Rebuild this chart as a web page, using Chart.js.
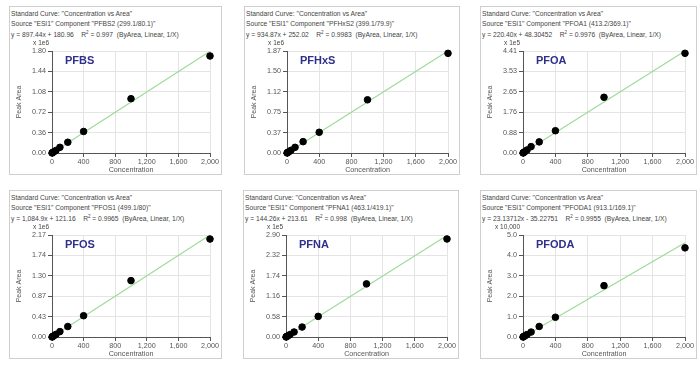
<!DOCTYPE html>
<html>
<head>
<meta charset="utf-8">
<script src="https://cdn.jsdelivr.net/npm/chart.js@4"></script>
<style>
body { margin: 0; background: #fff; width: 700px; height: 370px; position: relative; overflow: hidden; font-family: "Liberation Sans", Arial, sans-serif; }
.panel { position: absolute; border: 1px solid #cfcfcf; background: #fff; box-sizing: border-box; height: 169px; }
.hdr { position: absolute; left: 1px; top: 2px; font-size: 6.7px; line-height: 9.5px; color: #444; white-space: nowrap; }
.panel canvas { position: absolute; left: 0; top: 29px; }
</style>
</head>
<body>
<script>
// calibration levels (same for every compound)
const concentrations = [1, 5, 10, 25, 50, 100, 200, 400, 1000, 2000];

const compounds = ['PFBS', 'PFHxS', 'PFOA', 'PFOS', 'PFNA', 'PFODA'];
const components = ['PFBS2 (299.1/80.1)', 'PFHxS2 (399.1/79.9)', 'PFOA1 (413.2/369.1)',
                    'PFOS1 (499.1/80)', 'PFNA1 (463.1/419.1)', 'PFODA1 (913.1/169.1)'];
const equations = ['y = 897.44x + 180.96', 'y = 934.87x + 252.02', 'y = 220.40x + 48.30452',
                   'y = 1,084.9x + 121.16', 'y = 144.26x + 213.61', 'y = 23.13712x - 35.22751'];
const rSquared = ['0.997', '0.9983', '0.9976', '0.9965', '0.998', '0.9955'];
const scaleLabels = ['x 1e6', 'x 1e6', 'x 1e5', 'x 1e6', 'x 1e5', 'x 10,000'];

// peak areas, in the units of each panel's scale label
const pfbsArea  = [0.001, 0.005, 0.010, 0.022, 0.045, 0.100, 0.190, 0.380, 0.958, 1.712];
const pfhxsArea = [0.001, 0.005, 0.010, 0.024, 0.050, 0.104, 0.208, 0.380, 0.975, 1.827];
const pfoaArea  = [0.003, 0.012, 0.025, 0.060, 0.130, 0.277, 0.480, 0.964, 2.410, 4.310];
const pfosArea  = [0.001, 0.006, 0.012, 0.027, 0.055, 0.115, 0.223, 0.453, 1.200, 2.084];
const pfnaArea  = [0.002, 0.008, 0.015, 0.035, 0.070, 0.142, 0.283, 0.586, 1.510, 2.787];
const pfodaArea = [0.002, 0.010, 0.025, 0.060, 0.120, 0.242, 0.516, 0.968, 2.516, 4.370];
const areas = [pfbsArea, pfhxsArea, pfoaArea, pfosArea, pfnaArea, pfodaArea];

// fitted line, value at 0 and at 2000
const fitStart = [0.0002, 0.0003, 0.0005, 0.0001, 0.002, 0];
const fitEnd   = [1.795, 1.870, 4.408, 2.170, 2.887, 4.62];

// y axis ticks
const yTicks = [
  ['0.00', '0.36', '0.72', '1.08', '1.44', '1.80'],
  ['0.00', '0.37', '0.75', '1.12', '1.50', '1.87'],
  ['0.00', '0.88', '1.76', '2.65', '3.53', '4.41'],
  ['0.00', '0.43', '0.87', '1.30', '1.74', '2.17'],
  ['0.00', '0.58', '1.16', '1.74', '2.32', '2.90'],
  ['0.0', '1.0', '2.0', '3.0', '4.0', '5.0']
];
const yMax = [1.80, 1.87, 4.41, 2.17, 2.90, 5.0];
const xTicks = [0, 400, 800, 1200, 1600, 2000];

// panel boxes [left, top, width]
const boxes = [[9, 6, 213], [244, 6, 216], [480, 6, 217], [9, 190, 213], [243, 190, 216], [480, 190, 217]];

const labelPlugin = {
    id: 'panelLabels',
    afterDraw(chart, args, opts) {
        const { ctx, chartArea } = chart;
        ctx.save();
        ctx.font = '6.5px "Liberation Sans"';
        ctx.fillStyle = '#444';
        ctx.textAlign = 'right';
        ctx.textBaseline = 'middle';
        ctx.fillText(opts.scale, chartArea.left - 3, chartArea.top - 8);
        ctx.font = 'bold 11px "Liberation Sans"';
        ctx.fillStyle = '#2f2f8c';
        ctx.textAlign = 'left';
        ctx.fillText(opts.name, chartArea.left + 13, chartArea.top + 10);
        ctx.restore();
    }
};

compounds.forEach((name, i) => {
    const [left, top, width] = boxes[i];
    const panel = document.createElement('div');
    panel.className = 'panel';
    panel.style.left = left + 'px';
    panel.style.top = top + 'px';
    panel.style.width = width + 'px';

    const hdr = document.createElement('div');
    hdr.className = 'hdr';
    hdr.innerHTML = 'Standard Curve: "Concentration vs Area"<br>' +
        'Source "ESI1" Component "' + components[i] + '"<br>' +
        equations[i] + '&nbsp;&nbsp;&nbsp; R<sup style="font-size:4.5px">2</sup> = ' + rSquared[i] +
        '&nbsp;&nbsp;(ByArea, Linear, 1/X)';
    panel.appendChild(hdr);

    const canvas = document.createElement('canvas');
    canvas.width = width - 2;
    canvas.height = 138;
    canvas.style.width = (width - 2) + 'px';
    canvas.style.height = '138px';
    panel.appendChild(canvas);
    document.body.appendChild(panel);

    const points = concentrations.map((c, k) => ({ x: c, y: areas[i][k] }));
    const tickValues = yTicks[i].map(t => parseFloat(t));

    new Chart(canvas.getContext('2d'), {
        type: 'scatter',
        data: {
            datasets: [{
                label: name,
                data: points,
                backgroundColor: '#000',
                borderColor: '#000',
                pointRadius: 3.3,
                clip: false
            }, {
                label: 'fit',
                data: [{ x: 0, y: fitStart[i] }, { x: 2000, y: fitEnd[i] }],
                showLine: true,
                borderColor: '#9edb9a',
                borderWidth: 1.2,
                pointRadius: 0,
                clip: false
            }]
        },
        options: {
            responsive: false,
            animation: false,
            layout: { padding: { top: 15, right: 11, left: 5, bottom: 0 } },
            plugins: {
                legend: { display: false },
                tooltip: { enabled: false },
                panelLabels: { name: name, scale: scaleLabels[i] }
            },
            scales: {
                x: {
                    type: 'linear',
                    min: 0,
                    max: 2000,
                    afterBuildTicks: s => { s.ticks = xTicks.map(v => ({ value: v })); },
                    afterFit: s => { s.height = 21; },
                    ticks: { font: { size: 7.2, family: 'Liberation Sans' }, color: '#555', padding: 1, maxRotation: 0 },
                    grid: { color: '#e4e4e4', tickColor: '#555', tickLength: 4 },
                    border: { color: '#555' },
                    title: { display: true, text: 'Concentration', font: { size: 7.2, family: 'Liberation Sans' }, color: '#555', padding: 0 }
                },
                y: {
                    min: 0,
                    max: yMax[i],
                    afterBuildTicks: s => { s.ticks = tickValues.map(v => ({ value: v })); },
                    afterFit: s => { s.width = 37; },
                    ticks: {
                        font: { size: 7.2, family: 'Liberation Sans' }, color: '#555', padding: 2,
                        callback: (v, idx) => yTicks[i][idx]
                    },
                    grid: { color: '#e4e4e4', tickColor: '#555', tickLength: 4 },
                    border: { color: '#555' },
                    title: { display: true, text: 'Peak Area', font: { size: 7, family: 'Liberation Sans' }, color: '#555', padding: 0 }
                }
            }
        },
        plugins: [labelPlugin]
    });
});
</script>
</body>
</html>
